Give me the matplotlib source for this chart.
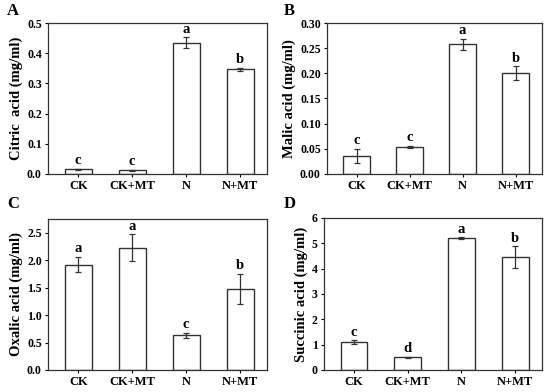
import numpy as np
import matplotlib.pyplot as plt

plt.rcParams['font.family'] = ['Liberation Serif', 'DejaVu Serif']
plt.rcParams['font.weight'] = 'bold'

groups = ['CK', 'CK+MT', 'N', 'N+MT']

citric = [0.015, 0.012, 0.434, 0.347]
citric_err = [0.003, 0.002, 0.018, 0.005]
citric_sig = ['c', 'c', 'a', 'b']

malic = [0.036, 0.054, 0.258, 0.200]
malic_err = [0.014, 0.002, 0.011, 0.014]
malic_sig = ['c', 'c', 'a', 'b']

oxalic = [1.92, 2.23, 0.63, 1.48]
oxalic_err = [0.14, 0.24, 0.05, 0.27]
oxalic_sig = ['a', 'a', 'c', 'b']

succinic = [1.10, 0.50, 5.20, 4.45]
succinic_err = [0.07, 0.02, 0.04, 0.43]
succinic_sig = ['c', 'd', 'a', 'b']

panels = [
    ('A', 'Citric  acid (mg/ml)', citric, citric_err, citric_sig, (0, 0.5), np.arange(0, 0.51, 0.1), '%.1f'),
    ('B', 'Malic acid (mg/ml)', malic, malic_err, malic_sig, (0, 0.30), np.arange(0, 0.301, 0.05), '%.2f'),
    ('C', 'Oxalic acid (mg/ml)', oxalic, oxalic_err, oxalic_sig, (0, 2.75), np.arange(0, 2.51, 0.5), '%.1f'),
    ('D', 'Succinic acid (mg/ml)', succinic, succinic_err, succinic_sig, (0, 6), np.arange(0, 6.1, 1), '%d'),
]

# axes boxes in pixels (left, top, right, bottom)
boxes = [(48, 23, 267, 174), (327, 23, 542, 174), (48, 219, 267, 370), (324, 218, 542, 370)]
label_pos = [(7, 11), (284, 11), (7, 204), (284, 204)]

W, H = 550, 392
fig = plt.figure(figsize=(5.5, 3.92), dpi=100)

x = np.arange(len(groups))
for (tag, ylab, vals, errs, sig, ylim, ticks, fmt), (l, t, r, b), (lx, ly) in zip(panels, boxes, label_pos):
    ax = fig.add_axes([l / W, 1 - b / H, (r - l) / W, (b - t) / H])
    ax.bar(x, vals, width=0.5, color='white', edgecolor='#333333', linewidth=1.0)
    ax.errorbar(x, vals, yerr=errs, fmt='none', ecolor='#333333', elinewidth=0.9, capsize=2.2, capthick=0.9)
    span = ylim[1] - ylim[0]
    for xi, v, e, s in zip(x, vals, errs, sig):
        ax.text(xi, v + e + span * 0.01, s, ha='center', va='bottom', fontsize=10.5, fontweight='bold')
    ax.set_xlim(-0.56, 3.5)
    ax.set_ylim(*ylim)
    ax.set_yticks(ticks)
    ax.set_yticklabels([fmt % v for v in ticks], fontsize=8.5, fontweight='bold')
    ax.set_xticks(x)
    ax.set_xticklabels(groups, fontsize=9, fontweight='bold')
    ax.set_ylabel(ylab, fontsize=10.5, fontweight='bold', labelpad=3)
    ax.tick_params(direction='out', length=2.5, width=0.8, pad=2)
    for sp in ax.spines.values():
        sp.set_linewidth(0.9)
        sp.set_color('#333333')
    fig.text(lx / W, 1 - ly / H, tag, fontsize=12, fontweight='bold', va='center', ha='left')

fig.savefig('out.png', dpi=100)
